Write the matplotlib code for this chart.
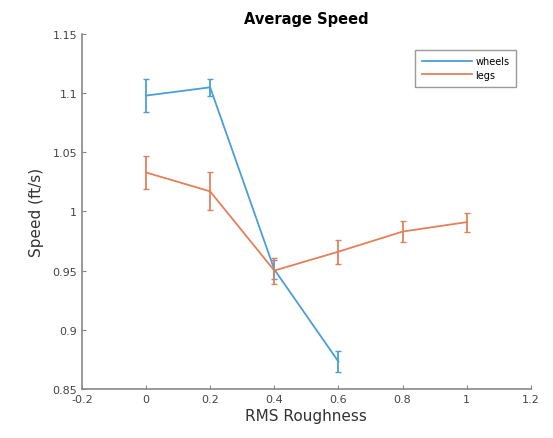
import matplotlib
matplotlib.use('Agg')
import matplotlib.pyplot as plt
from matplotlib.lines import Line2D

# average speed per roughness level
wheels_x = [0.0, 0.2, 0.4, 0.6]
wheels_speed = [1.098, 1.105, 0.951, 0.873]
wheels_err = [0.014, 0.007, 0.008, 0.009]

legs_x = [0.0, 0.2, 0.4, 0.6, 0.8, 1.0]
legs_speed = [1.033, 1.017, 0.950, 0.966, 0.983, 0.991]
legs_err = [0.014, 0.016, 0.011, 0.010, 0.009, 0.008]

blue = '#4a9fd8'
orange = '#e3805a'
grey = '#444444'

fig = plt.figure(figsize=(5.53, 4.39), dpi=100)
ax = fig.add_axes([0.148, 0.112, 0.812, 0.808])

ax.errorbar(wheels_x, wheels_speed, yerr=wheels_err, color=blue, lw=1.3,
            capsize=2.5, elinewidth=1.3, capthick=1.0)
ax.errorbar(legs_x, legs_speed, yerr=legs_err, color=orange, lw=1.3,
            capsize=2.5, elinewidth=1.3, capthick=1.0)

ax.set_xlim(-0.2, 1.2)
ax.set_ylim(0.85, 1.15)
ax.set_xticks([-0.2, 0, 0.2, 0.4, 0.6, 0.8, 1.0, 1.2])
ax.set_xticklabels(['-0.2', '0', '0.2', '0.4', '0.6', '0.8', '1', '1.2'])
ax.set_yticks([0.85, 0.9, 0.95, 1.0, 1.05, 1.1, 1.15])
ax.set_yticklabels(['0.85', '0.9', '0.95', '1', '1.05', '1.1', '1.15'])

for s in ['top', 'right']:
    ax.spines[s].set_visible(False)
for s in ['left', 'bottom']:
    ax.spines[s].set_color('#888888')
    ax.spines[s].set_linewidth(1.2)
ax.tick_params(direction='in', length=3, color='#888888', labelsize=8,
               labelcolor=grey)

ax.set_xlabel('RMS Roughness', fontsize=11, color='#333333', labelpad=3)
ax.set_ylabel('Speed (ft/s)', fontsize=11, color='#333333', labelpad=6)
ax.set_title('Average Speed', fontsize=10.5, fontweight='bold', pad=8)

handles = [Line2D([], [], color=blue, lw=1.3), Line2D([], [], color=orange, lw=1.3)]
leg = ax.legend(handles, ['wheels', 'legs'], loc='upper right',
                bbox_to_anchor=(0.978, 0.97), fontsize=7,
                fancybox=False, framealpha=1, edgecolor='#999999',
                handlelength=5.2, handletextpad=0.3, borderpad=0.7,
                labelspacing=0.35)
leg.get_frame().set_linewidth(1.0)

fig.savefig('out.png', dpi=100)
